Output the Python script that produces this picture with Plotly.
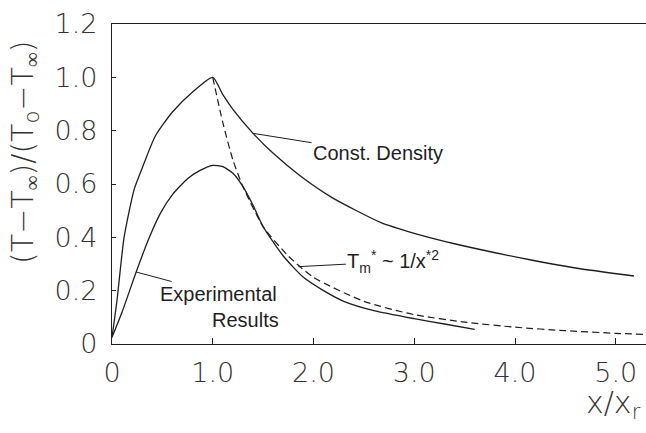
import plotly.graph_objects as go

# Constant density curve
cd_x = [0.0, 0.05, 0.12, 0.22, 0.30, 0.43, 0.60, 0.80, 1.00, 1.10, 1.20, 1.40, 1.60, 1.87, 2.18, 2.67, 3.00, 3.41, 4.16, 4.60, 5.18]
cd_y = [0.025, 0.165, 0.40, 0.58, 0.66, 0.78, 0.87, 0.945, 1.00, 0.935, 0.88, 0.79, 0.715, 0.63, 0.55, 0.455, 0.415, 0.375, 0.315, 0.285, 0.255]

# Experimental results
ex_x = [0.0, 0.10, 0.24, 0.36, 0.48, 0.60, 0.75, 0.87, 1.00, 1.10, 1.20, 1.30, 1.40, 1.50, 1.70, 1.90, 2.10, 2.30, 2.60, 3.00, 3.30, 3.60]
ex_y = [0.025, 0.12, 0.27, 0.39, 0.49, 0.56, 0.62, 0.65, 0.67, 0.665, 0.64, 0.59, 0.52, 0.44, 0.33, 0.25, 0.20, 0.16, 0.125, 0.095, 0.075, 0.055]

# Tm* ~ 1/x*^2 (dashed)
ds_x = [1.00, 1.10, 1.20, 1.30, 1.50, 1.75, 2.00, 2.50, 3.00, 3.50, 4.00, 4.50, 5.00, 5.30]
ds_y = [1.00, 0.83, 0.69, 0.59, 0.44, 0.33, 0.25, 0.16, 0.11, 0.082, 0.063, 0.05, 0.04, 0.036]

x_ticks = [0, 1, 2, 3, 4, 5]
x_ticklabels = ["0", "1.0", "2.0", "3.0", "4.0", "5.0"]
y_ticks = [0, 0.2, 0.4, 0.6, 0.8, 1.0, 1.2]
y_ticklabels = ["0", "0.2", "0.4", "0.6", "0.8", "1.0", "1.2"]

INK = "#1e1e1e"
FONT = "DejaVu Sans"
AFONT = "Liberation Sans"

fig = go.Figure()
fig.add_trace(go.Scatter(x=cd_x, y=cd_y, mode="lines", line=dict(color=INK, width=1.3, shape="spline", smoothing=0.6)))
fig.add_trace(go.Scatter(x=ex_x, y=ex_y, mode="lines", line=dict(color=INK, width=1.3, shape="spline", smoothing=0.6)))
fig.add_trace(go.Scatter(x=ds_x, y=ds_y, mode="lines", line=dict(color=INK, width=1.2, dash="7px,4px", shape="spline", smoothing=0.6)))

fig.update_layout(
    width=646, height=433,
    margin=dict(l=112, r=0, t=24, b=89),
    paper_bgcolor="white", plot_bgcolor="white",
    showlegend=False,
    font=dict(family=AFONT, color=INK),
)
fig.update_xaxes(
    range=[0, 5.3], tickvals=x_ticks, ticktext=x_ticklabels, automargin=False,
    showgrid=False, zeroline=False, showline=True, linecolor=INK, linewidth=1.3,
    mirror=True, ticks="inside", ticklen=6, tickcolor=INK,
    tickfont=dict(size=27, family=FONT, color="#333", weight=200), ticklabelstandoff=4,
)
fig.update_yaxes(
    range=[0, 1.2], tickvals=y_ticks, ticktext=y_ticklabels, automargin=False,
    showgrid=False, zeroline=False, showline=True, linecolor=INK, linewidth=1.3,
    ticks="inside", ticklen=4, tickcolor=INK,
    tickfont=dict(size=27, family=FONT, color="#333", weight=200), ticklabelstandoff=8,
)

annos = [
    dict(text="(T\u2212T<sub>\u221e</sub>)/(T<sub>o</sub>\u2212T<sub>\u221e</sub>)", xref="paper", yref="paper",
         x=-0.165, y=0.60, xanchor="center", yanchor="middle", textangle=-90, showarrow=False,
         font=dict(size=30, family=FONT, color="#333", weight=200)),
    dict(text="x/x<sub>r</sub>", xref="paper", yref="paper", x=0.995, y=-0.19,
         xanchor="right", yanchor="middle", showarrow=False,
         font=dict(size=30, family=FONT, color="#333", weight=200)),
    dict(text="Const. Density", x=1.40, y=0.79, ax=125, ay=20, showarrow=True, arrowhead=0,
         arrowwidth=1, arrowcolor=INK, font=dict(size=20)),
    dict(text="T<sub>m</sub><sup>*</sup> ~ 1/x<sup>*2</sup>", x=1.85, y=0.29, ax=95, ay=-5,
         showarrow=True, arrowhead=0, arrowwidth=1, arrowcolor=INK, font=dict(size=20)),
    dict(text="Experimental", x=0.24, y=0.27, ax=82, ay=22, showarrow=True, arrowhead=0,
         arrowwidth=1, arrowcolor=INK, font=dict(size=20)),
    dict(text="Results", x=1.32, y=0.09, showarrow=False, font=dict(size=20)),
]
fig.update_layout(annotations=annos)

fig.write_html("out.html", config={"displayModeBar": False},
               post_script="document.body.style.margin='0';document.body.style.overflow='hidden';")
